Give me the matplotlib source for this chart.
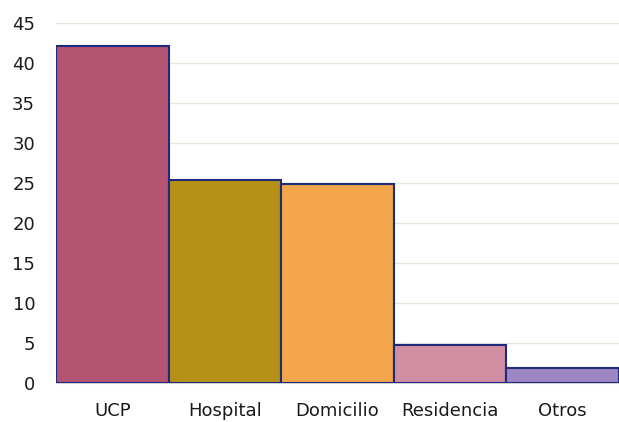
import matplotlib
matplotlib.use("Agg")
import matplotlib.pyplot as plt

categories = ["UCP", "Hospital", "Domicilio", "Residencia", "Otros"]
values = [42.1, 25.4, 24.9, 4.8, 1.9]
colors = ["#B35473", "#B59115", "#F2A54A", "#D18FA3", "#9E86C4"]
yticks = [0, 5, 10, 15, 20, 25, 30, 35, 40, 45]

fig = plt.figure(figsize=(6.19, 4.22), dpi=100)
ax = fig.add_axes([56/619, 39/422, 1 - 56/619, (383-23)/422])
x = list(range(len(categories)))
ax.bar(x, values, width=1.0, color=colors, edgecolor="#1F2A7A", linewidth=1.5, zorder=3)
ax.set_xlim(-0.5, 4.5)
ax.set_ylim(0, 45)
ax.set_yticks(yticks)
ax.set_xticks(x)
ax.set_xticklabels(categories)
ax.grid(axis="y", color="#E2E8DA", linewidth=1, zorder=0)
for s in ["top", "right", "left"]:
    ax.spines[s].set_visible(False)
ax.spines["bottom"].set_color("#D0D0D0")
ax.tick_params(axis="both", length=0, labelsize=13, colors="#1A1A1A")
ax.tick_params(axis="y", pad=15)
ax.tick_params(axis="x", pad=14)
fig.savefig("out.png", dpi=100)
